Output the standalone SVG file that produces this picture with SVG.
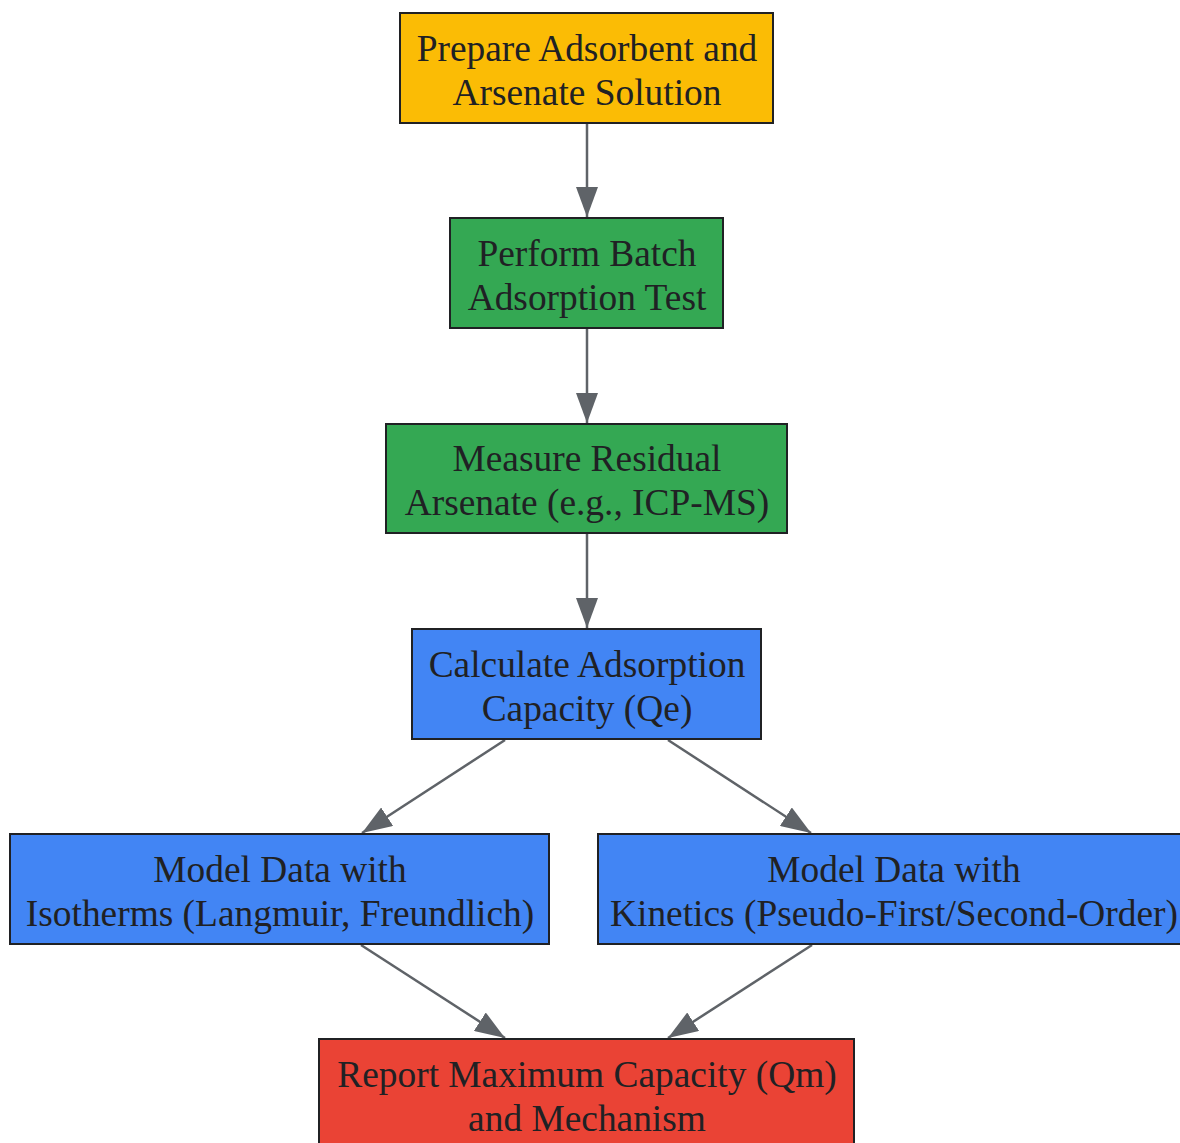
<svg xmlns="http://www.w3.org/2000/svg" width="1180" height="1143" viewBox="0 0 1180 1143">
<style>
.node rect{stroke:#202124;stroke-width:2}
.node text{font-family:"Liberation Serif","Times New Roman",serif;font-size:37.4px;fill:#202124;text-anchor:middle}
.edges line{stroke:#5f6368;stroke-width:2.5;fill:none}
</style>
<defs>
<marker id="ah" viewBox="0 0 30 22" refX="30" refY="11" markerWidth="30" markerHeight="22" markerUnits="userSpaceOnUse" orient="auto">
<path d="M0,0 L30,11 L0,22 z" fill="#5f6368"/>
</marker>
</defs>
<rect width="1180" height="1143" fill="#ffffff"/>
<g class="edges">
<line x1="587" y1="124" x2="587" y2="217" marker-end="url(#ah)"/>
<line x1="587" y1="329" x2="587" y2="423" marker-end="url(#ah)"/>
<line x1="587" y1="534" x2="587" y2="628" marker-end="url(#ah)"/>
<line x1="505" y1="740" x2="362" y2="833" marker-end="url(#ah)"/>
<line x1="668" y1="740" x2="811" y2="833" marker-end="url(#ah)"/>
<line x1="361" y1="945" x2="505" y2="1038" marker-end="url(#ah)"/>
<line x1="812" y1="945" x2="668" y2="1038" marker-end="url(#ah)"/>
</g>
<g id="n1" class="node">
<rect x="400" y="13" width="373" height="110" fill="#fbbc05"/>
<text x="587" y="61">Prepare Adsorbent and</text>
<text x="587" y="105">Arsenate Solution</text>
</g>
<g id="n2" class="node">
<rect x="450" y="218" width="273" height="110" fill="#34a853"/>
<text x="587" y="266">Perform Batch</text>
<text x="587" y="310">Adsorption Test</text>
</g>
<g id="n3" class="node">
<rect x="386" y="424" width="401" height="109" fill="#34a853"/>
<text x="587" y="471">Measure Residual</text>
<text x="587" y="515">Arsenate (e.g., ICP-MS)</text>
</g>
<g id="n4" class="node">
<rect x="412" y="629" width="349" height="110" fill="#4285f4"/>
<text x="587" y="677">Calculate Adsorption</text>
<text x="587" y="721">Capacity (Qe)</text>
</g>
<g id="n5" class="node">
<rect x="10" y="834" width="539" height="110" fill="#4285f4"/>
<text x="280" y="882">Model Data with</text>
<text x="280" y="926">Isotherms (Langmuir, Freundlich)</text>
</g>
<g id="n6" class="node">
<rect x="598" y="834" width="592" height="110" fill="#4285f4"/>
<text x="894" y="882">Model Data with</text>
<text x="894" y="926">Kinetics (Pseudo-First/Second-Order)</text>
</g>
<g id="n7" class="node">
<rect x="319" y="1039" width="535" height="110" fill="#ea4335"/>
<text x="587" y="1087">Report Maximum Capacity (Qm)</text>
<text x="587" y="1131">and Mechanism</text>
</g>
</svg>
